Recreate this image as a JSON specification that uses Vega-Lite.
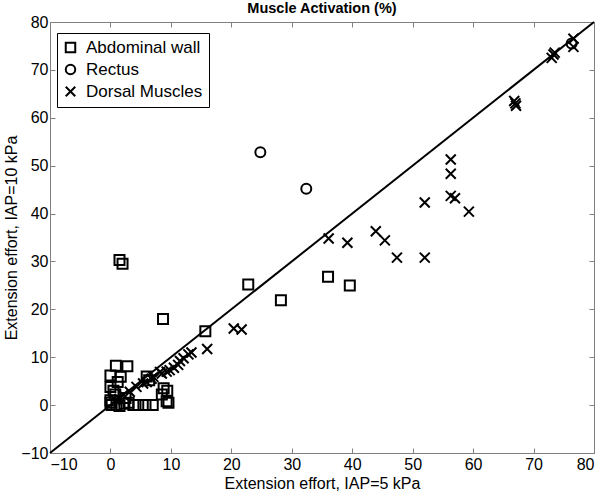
{
  "$schema": "https://vega.github.io/schema/vega-lite/v6.json",
  "width": 544,
  "height": 431,
  "autosize": {"type": "none"},
  "padding": {"left": 50, "top": 22, "right": 6, "bottom": 40},
  "background": "white",
  "title": {"text": "Muscle Activation (%)", "font": "Liberation Sans", "fontSize": 14.5, "fontWeight": "bold", "color": "black", "offset": -2, "anchor": "middle"},
  "config": {
    "view": {"stroke": "#808080", "strokeWidth": 1},
    "font": "Liberation Sans",
    "axis": {"grid": false, "domainColor": "#808080", "tickColor": "#808080", "labelColor": "black", "titleColor": "black", "labelFont": "Liberation Sans", "titleFont": "Liberation Sans", "labelFontSize": 16, "titleFontSize": 16, "titleFontWeight": "normal"}
  },
  "datasets": {
    "pts": [
      {"x": 1.5, "y": 30.3, "group": "Abdominal wall"},
      {"x": 2.0, "y": 29.5, "group": "Abdominal wall"},
      {"x": 8.7, "y": 18.0, "group": "Abdominal wall"},
      {"x": 22.8, "y": 25.2, "group": "Abdominal wall"},
      {"x": 28.2, "y": 21.9, "group": "Abdominal wall"},
      {"x": 36.0, "y": 26.8, "group": "Abdominal wall"},
      {"x": 39.6, "y": 25.0, "group": "Abdominal wall"},
      {"x": 15.7, "y": 15.4, "group": "Abdominal wall"},
      {"x": 0.9, "y": 8.2, "group": "Abdominal wall"},
      {"x": 2.8, "y": 8.1, "group": "Abdominal wall"},
      {"x": 0.0, "y": 6.2, "group": "Abdominal wall"},
      {"x": 1.7, "y": 5.9, "group": "Abdominal wall"},
      {"x": 6.0, "y": 6.0, "group": "Abdominal wall"},
      {"x": 6.4, "y": 5.2, "group": "Abdominal wall"},
      {"x": 8.8, "y": 3.5, "group": "Abdominal wall"},
      {"x": 9.4, "y": 3.0, "group": "Abdominal wall"},
      {"x": 9.3, "y": 0.8, "group": "Abdominal wall"},
      {"x": 9.6, "y": 0.5, "group": "Abdominal wall"},
      {"x": 8.5, "y": 2.2, "group": "Abdominal wall"},
      {"x": 3.8, "y": 0.0, "group": "Abdominal wall"},
      {"x": 4.6, "y": 0.0, "group": "Abdominal wall"},
      {"x": 5.8, "y": 0.0, "group": "Abdominal wall"},
      {"x": 7.0, "y": 0.0, "group": "Abdominal wall"},
      {"x": 0.0, "y": 3.8, "group": "Abdominal wall"},
      {"x": 0.0, "y": 1.0, "group": "Abdominal wall"},
      {"x": 0.2, "y": 0.0, "group": "Abdominal wall"},
      {"x": 1.5, "y": -0.2, "group": "Abdominal wall"},
      {"x": 2.3, "y": 0.3, "group": "Abdominal wall"},
      {"x": 0.8, "y": 2.2, "group": "Abdominal wall"},
      {"x": 1.2, "y": 4.8, "group": "Abdominal wall"},
      {"x": 2.5, "y": 1.5, "group": "Abdominal wall"},
      {"x": 0.0, "y": 0.5, "group": "Abdominal wall"},
      {"x": 1.0, "y": 0.0, "group": "Abdominal wall"},
      {"x": 3.0, "y": 0.5, "group": "Abdominal wall"},
      {"x": 0.5, "y": 3.0, "group": "Abdominal wall"},
      {"x": 24.8, "y": 52.8, "group": "Rectus"},
      {"x": 32.4, "y": 45.2, "group": "Rectus"},
      {"x": 76.3, "y": 75.5, "group": "Rectus"},
      {"x": 76.6, "y": 76.5, "group": "Dorsal Muscles"},
      {"x": 76.6, "y": 74.8, "group": "Dorsal Muscles"},
      {"x": 73.0, "y": 72.5, "group": "Dorsal Muscles"},
      {"x": 73.3, "y": 73.2, "group": "Dorsal Muscles"},
      {"x": 73.5, "y": 73.6, "group": "Dorsal Muscles"},
      {"x": 67.0, "y": 63.0, "group": "Dorsal Muscles"},
      {"x": 66.8, "y": 63.5, "group": "Dorsal Muscles"},
      {"x": 67.1, "y": 62.5, "group": "Dorsal Muscles"},
      {"x": 56.3, "y": 51.3, "group": "Dorsal Muscles"},
      {"x": 56.3, "y": 48.3, "group": "Dorsal Muscles"},
      {"x": 56.3, "y": 43.7, "group": "Dorsal Muscles"},
      {"x": 57.0, "y": 43.2, "group": "Dorsal Muscles"},
      {"x": 59.3, "y": 40.4, "group": "Dorsal Muscles"},
      {"x": 52.0, "y": 42.3, "group": "Dorsal Muscles"},
      {"x": 52.0, "y": 30.8, "group": "Dorsal Muscles"},
      {"x": 47.4, "y": 30.8, "group": "Dorsal Muscles"},
      {"x": 43.9, "y": 36.3, "group": "Dorsal Muscles"},
      {"x": 45.4, "y": 34.4, "group": "Dorsal Muscles"},
      {"x": 39.2, "y": 33.9, "group": "Dorsal Muscles"},
      {"x": 36.1, "y": 34.8, "group": "Dorsal Muscles"},
      {"x": 20.4, "y": 16.0, "group": "Dorsal Muscles"},
      {"x": 21.7, "y": 15.8, "group": "Dorsal Muscles"},
      {"x": 16.0, "y": 11.7, "group": "Dorsal Muscles"},
      {"x": 13.4, "y": 11.0, "group": "Dorsal Muscles"},
      {"x": 12.9, "y": 10.6, "group": "Dorsal Muscles"},
      {"x": 12.1, "y": 9.8, "group": "Dorsal Muscles"},
      {"x": 11.5, "y": 9.2, "group": "Dorsal Muscles"},
      {"x": 11.2, "y": 8.4, "group": "Dorsal Muscles"},
      {"x": 9.8, "y": 7.3, "group": "Dorsal Muscles"},
      {"x": 9.3, "y": 7.0, "group": "Dorsal Muscles"},
      {"x": 8.5, "y": 6.6, "group": "Dorsal Muscles"},
      {"x": 8.2, "y": 6.9, "group": "Dorsal Muscles"},
      {"x": 7.1, "y": 5.9, "group": "Dorsal Muscles"},
      {"x": 6.8, "y": 5.5, "group": "Dorsal Muscles"},
      {"x": 5.4, "y": 4.5, "group": "Dorsal Muscles"},
      {"x": 4.3, "y": 3.8, "group": "Dorsal Muscles"},
      {"x": 3.2, "y": 2.8, "group": "Dorsal Muscles"},
      {"x": 2.1, "y": 2.1, "group": "Dorsal Muscles"},
      {"x": 0.8, "y": 1.0, "group": "Dorsal Muscles"},
      {"x": 1.5, "y": 1.3, "group": "Dorsal Muscles"},
      {"x": 6.0, "y": 4.8, "group": "Dorsal Muscles"},
      {"x": 10.5, "y": 7.8, "group": "Dorsal Muscles"}
    ],
    "line": [{"x": -10, "y": -10}, {"x": 80, "y": 80}]
  },
  "layer": [
    {
      "data": {"name": "line"},
      "mark": {"type": "line", "color": "black", "strokeWidth": 2},
      "encoding": {
        "x": {"field": "x", "type": "quantitative", "scale": {"domain": [-10, 80], "nice": false, "zero": false},
              "axis": {"orient": "top", "labels": false, "title": null, "values": [-10,0,10,20,30,40,50,60,70,80], "tickSize": -5, "domain": false}},
        "y": {"field": "y", "type": "quantitative", "scale": {"domain": [-10, 80], "nice": false, "zero": false},
              "axis": {"orient": "right", "labels": false, "title": null, "values": [-10,0,10,20,30,40,50,60,70,80], "tickSize": -5, "domain": false}}
      }
    },
    {
      "data": {"name": "pts"},
      "mark": {"type": "point", "filled": false, "strokeWidth": 2, "size": 100, "opacity": 1},
      "encoding": {
        "x": {"field": "x", "type": "quantitative", "scale": {"domain": [-10, 80], "nice": false, "zero": false},
              "axis": {"orient": "bottom", "title": "Extension effort, IAP=5 kPa", "values": [-10,0,10,20,30,40,50,60,70,80], "tickSize": -5, "labelPadding": 8, "titlePadding": 3, "domain": false}},
        "y": {"field": "y", "type": "quantitative", "scale": {"domain": [-10, 80], "nice": false, "zero": false},
              "axis": {"orient": "left", "title": "Extension effort, IAP=10 kPa", "values": [-10,0,10,20,30,40,50,60,70,80], "tickSize": -5, "labelPadding": 7, "titlePadding": 1, "domain": false}},
        "shape": {"field": "group", "type": "nominal",
                  "scale": {"domain": ["Abdominal wall", "Rectus", "Dorsal Muscles"], "range": ["square", "circle", "M-1,-1L1,1M-1,1L1,-1"]},
                  "legend": {"title": null, "orient": "none", "legendX": 7, "legendY": 11, "strokeColor": "black", "fillColor": "white", "padding": 6, "labelFontSize": 17, "labelFont": "Liberation Sans", "labelColor": "black", "symbolStrokeColor": "black", "symbolStrokeWidth": 2, "symbolSize": 90, "symbolFillColor": "transparent", "rowPadding": 3, "labelOffset": 7, "symbolOffset": -1, "labelExpr": "datum.label + '\u00a0\u00a0\u00a0'"}},
        "color": {"value": "black"}
      }
    }
  ],
  "resolve": {"axis": {"x": "independent", "y": "independent"}}
}
